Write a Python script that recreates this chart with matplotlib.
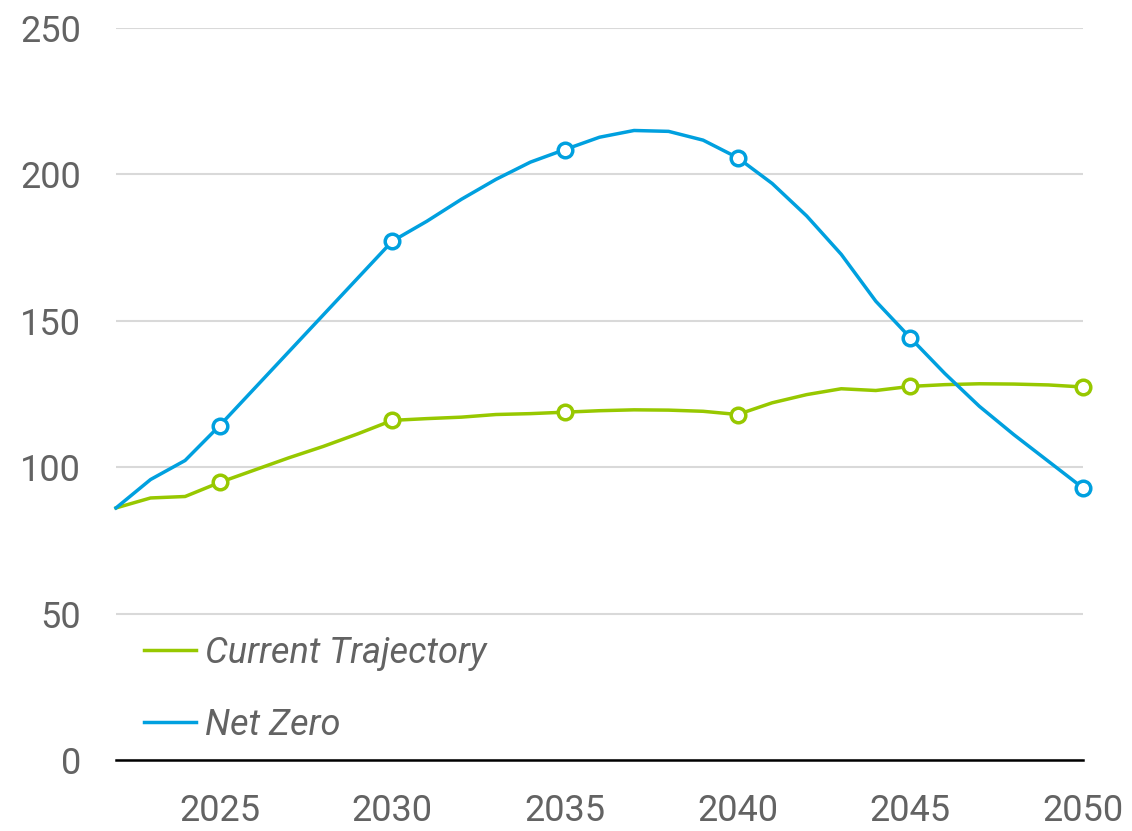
import matplotlib.pyplot as plt

years = list(range(2022, 2051))

current_trajectory = [86.1, 89.5, 90.0, 94.8, 99.0, 103.2, 107.1, 111.4, 116.0,
                      116.6, 117.1, 118.0, 118.3, 118.8, 119.3, 119.6, 119.5, 119.1,
                      118.0, 122.0, 124.8, 126.8, 126.2, 127.6, 128.2, 128.5, 128.4,
                      128.1, 127.4]
net_zero = [86.1, 95.8, 102.3, 114.2, 126.8, 139.4, 152.0, 164.6, 177.2,
            184.0, 191.5, 198.3, 204.2, 208.5, 212.7, 215.0, 214.7, 211.7,
            205.7, 196.9, 185.8, 172.7, 156.7, 144.2, 132.0, 120.8, 111.1,
            102.0, 92.9]

marker_years = [2025, 2030, 2035, 2040, 2045, 2050]
y_ticks = [0, 50, 100, 150, 200, 250]

GREEN = '#97C800'
BLUE = '#00A0DF'
TEXT = '#636363'

plt.rcParams['font.family'] = ['Roboto', 'DejaVu Sans']

fig = plt.figure(figsize=(11.32, 8.31), dpi=100)
ax = fig.add_axes([0.1025, 0.0854, 0.8542, 0.8809])

marks = [years.index(y) for y in marker_years]
ax.plot(years, current_trajectory, color=GREEN, lw=2.5, label='Current Trajectory',
        marker='o', markevery=marks, markersize=10.5, markerfacecolor='white',
        markeredgewidth=2.5, zorder=3, clip_on=False)
ax.plot(years, net_zero, color=BLUE, lw=2.5, label='Net Zero',
        marker='o', markevery=marks, markersize=10.5, markerfacecolor='white',
        markeredgewidth=2.5, zorder=4, clip_on=False)

ax.set_xlim(2022, 2050)
ax.set_ylim(0, 250)
ax.set_xticks(marker_years)
ax.set_yticks(y_ticks)
ax.grid(axis='y', color='#D9D9D9', lw=1.5)
ax.set_axisbelow(True)

for s in ['top', 'right', 'left']:
    ax.spines[s].set_visible(False)
ax.spines['bottom'].set_color('black')
ax.spines['bottom'].set_linewidth(1.8)

ax.tick_params(axis='y', length=0, pad=25, labelsize=26, labelcolor=TEXT)
ax.tick_params(axis='x', length=0, pad=24, labelsize=26, labelcolor=TEXT)

leg = ax.legend(loc='lower left', bbox_to_anchor=(-0.005, -0.021), frameon=False,
                handlelength=1.45, handletextpad=0.25, labelspacing=1.0,
                prop={'size': 26, 'style': 'italic'})
for t in leg.get_texts():
    t.set_color(TEXT)
for h in leg.get_lines():
    h.set_marker('')

fig.savefig('out.png', dpi=100)
